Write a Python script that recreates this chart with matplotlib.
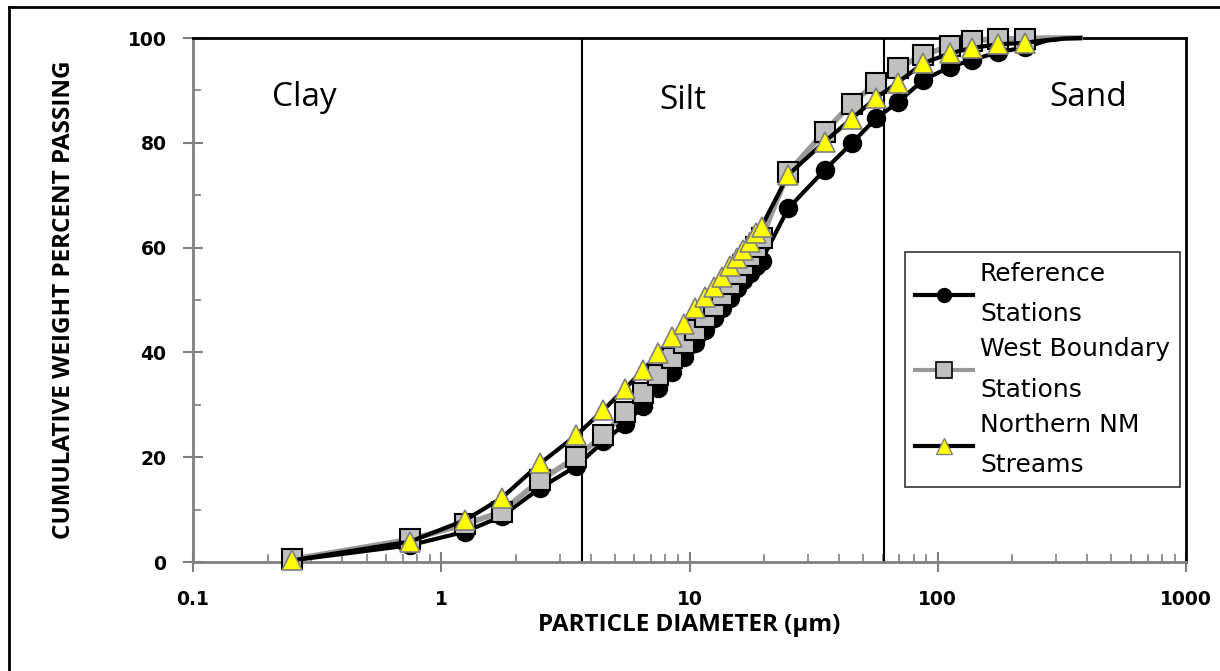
import matplotlib
matplotlib.use("Agg")
import matplotlib.pyplot as plt
from matplotlib.ticker import FixedLocator, NullFormatter, FixedFormatter
from matplotlib.lines import Line2D

# ---------------- data ----------------
diameter_um = [0.25, 0.75, 1.25, 1.75, 2.5, 3.5, 4.5, 5.5, 6.5, 7.5, 8.5, 9.5,
               10.5, 11.5, 12.5, 13.5, 14.5, 15.5, 16.5, 17.5, 18.5, 19.5,
               25, 35, 45, 56.5, 69, 87.5, 112.5, 137.5, 175, 225, 275, 325, 375]

reference = [0.3, 3.2, 5.8, 8.7, 14.1, 18.3, 23.0, 26.3, 29.8, 33.2, 36.3, 39.2,
             41.8, 44.3, 46.5, 48.5, 50.4, 52.2, 53.8, 55.2, 56.4, 57.5,
             67.5, 74.8, 79.9, 84.7, 87.7, 92.0, 94.5, 95.8, 97.3, 98.2, 99.5, 99.9, 100.0]

west_boundary = [0.5, 4.3, 7.2, 9.6, 15.6, 20.0, 24.2, 28.7, 32.2, 35.7, 38.9, 41.7,
                 44.3, 46.7, 48.9, 51.0, 53.0, 54.9, 56.7, 58.4, 60.1, 61.8,
                 74.4, 82.1, 87.5, 91.4, 94.3, 96.8, 98.5, 99.5, 99.8, 99.9, 100.0, 100.0, 100.0]

northern_nm = [0.3, 3.9, 8.0, 12.2, 18.8, 24.2, 29.0, 33.1, 36.6, 39.8, 43.0, 45.5,
               48.4, 50.6, 52.5, 54.4, 56.4, 58.0, 59.5, 61.1, 62.7, 64.0,
               73.9, 80.2, 84.6, 88.6, 91.5, 95.2, 97.1, 98.1, 98.8, 99.1, 99.6, 99.9, 100.0]

n_marked = 32  # markers drawn on the first 32 size classes

boundaries_um = [3.7, 61]
zone_labels = ["Clay", "Silt", "Sand"]
zone_label_x = [0.28, 9.4, 405]
zone_label_y = [88.7, 88.0, 88.7]

series_labels = ["Reference\nStations", "West Boundary\nStations", "Northern NM\nStreams"]

x_major = [0.1, 1, 10, 100, 1000]
x_major_labels = ["0.1", "1", "10", "100", "1000"]
y_major = [0, 20, 40, 60, 80, 100]
y_minor = [10, 30, 50, 70, 90]

# ---------------- figure ----------------
W, H = 1220, 671
fig = plt.figure(figsize=(W / 100, H / 100), dpi=100)
ax = fig.add_axes([193 / W, 1 - 562 / H, (1186 - 193) / W, (562 - 38) / H])

ax.set_xscale("log")
ax.set_xlim(0.1, 1000)
ax.set_ylim(0, 100)

mk = list(range(n_marked))
ax.plot(diameter_um, reference, color="black", lw=3, marker="o", ms=13,
        mfc="black", mec="black", markevery=mk, zorder=3, clip_on=False)
ax.plot(diameter_um, west_boundary, color="#9a9a9a", lw=4, marker="s", ms=14.5,
        mfc="#c0c0c0", mec="black", mew=1.5, markevery=mk, zorder=4, clip_on=False)
ax.plot(diameter_um, northern_nm, color="black", lw=3, marker="^", ms=15,
        mfc="#ffff00", mec="#808080", mew=1.2, markevery=mk, zorder=5, clip_on=False)

for b in boundaries_um:
    ax.axvline(b, color="black", lw=1.5, zorder=2)

for lbl, xl, yl in zip(zone_labels, zone_label_x, zone_label_y):
    ax.text(xl, yl, lbl, fontsize=24, family="Open Sans", ha="center", va="center")

# spines
for s in ["left", "bottom"]:
    ax.spines[s].set_color("#808080")
    ax.spines[s].set_linewidth(2)
for s in ["top", "right"]:
    ax.spines[s].set_color("black")
    ax.spines[s].set_linewidth(2)

ax.xaxis.set_major_locator(FixedLocator(x_major))
ax.xaxis.set_major_formatter(FixedFormatter(x_major_labels))
ax.xaxis.set_minor_formatter(NullFormatter())
ax.yaxis.set_major_locator(FixedLocator(y_major))
ax.yaxis.set_minor_locator(FixedLocator(y_minor))

ax.tick_params(axis="both", which="major", direction="inout", length=14, width=1.5,
               color="#808080", labelsize=13.5)
ax.tick_params(axis="both", which="minor", direction="in", length=6, width=1.2,
               color="#808080")
ax.tick_params(axis="y", which="major", pad=12)
ax.tick_params(axis="x", which="major", pad=13)
for t in ax.get_xticklabels() + ax.get_yticklabels():
    t.set_fontweight("bold")
    t.set_family("DejaVu Sans")

ax.set_xlabel("PARTICLE DIAMETER (\u00b5m)", fontsize=17.5, family="Open Sans",
              fontweight="bold")
ax.set_ylabel("CUMULATIVE WEIGHT PERCENT PASSING", fontsize=17.5, family="Open Sans",
              fontweight="bold")
ax.xaxis.set_label_coords(0.5, -0.098)
ax.yaxis.set_label_coords(-0.118, 0.5)

# legend
handles = [
    Line2D([], [], color="black", lw=3, marker="o", ms=10, mfc="black", mec="black"),
    Line2D([], [], color="#9a9a9a", lw=3, marker="s", ms=11, mfc="#c0c0c0", mec="black", mew=1.2),
    Line2D([], [], color="black", lw=3, marker="^", ms=12, mfc="#ffff00", mec="#808080"),
]
leg = ax.legend(handles, series_labels, loc="upper left",
                bbox_to_anchor=((905 - 193) / (1186 - 193), 1 - (252 - 38) / (562 - 38)),
                frameon=True, fancybox=False, edgecolor="black",
                handlelength=2.3, handletextpad=0.3, labelspacing=0.45,
                borderpad=0.4, borderaxespad=0, prop={"family": "DejaVu Sans", "size": 18})
for t in leg.get_texts():
    t.set_linespacing(1.85)
leg.get_frame().set_linewidth(1.2)
leg.set_zorder(10)

# outer border (top and left)
fig.add_artist(Line2D([9 / W, 9 / W], [0, 1 - 7 / H], color="black", lw=2,
                      transform=fig.transFigure))
fig.add_artist(Line2D([9 / W, 1], [1 - 7 / H, 1 - 7 / H], color="black", lw=2,
                      transform=fig.transFigure))

fig.savefig("out.png", dpi=100)
